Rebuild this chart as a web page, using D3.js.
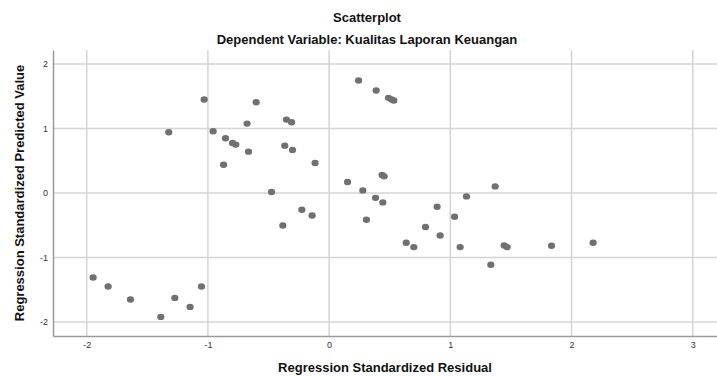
<!DOCTYPE html>
<html>
<head>
<meta charset="utf-8">
<script src="https://cdn.jsdelivr.net/npm/d3@7"></script>
<style>
  body { margin: 0; background: #fff; }
  text { font-family: "Liberation Sans", Arial, sans-serif; }
</style>
</head>
<body>
<svg id="chart" width="717" height="376"></svg>
<script>
// residuals (x) and predicted values (y)
var residuals = [-1.031, -0.602, -0.677, -1.323, -0.957, -0.855, -0.797, -0.770, -0.665, -0.871,
  -0.475, -0.352, -0.310, 0.243, 0.388, 0.490, 0.515, 0.534, -0.366, -0.302,
  -0.116, 0.152, 0.437, 0.454, 0.278, 1.370, 1.133, 0.383, 0.443, -0.225,
  -0.140, -0.382, 0.308, 0.891, 1.035, 0.795, 0.916, 0.636, 0.699, 1.081,
  1.444, 1.469, 1.835, 2.178, 1.334, -1.947, -1.823, -1.639, -1.389, -1.273,
  -1.147, -1.053];
var predicted = [1.449, 1.407, 1.076, 0.941, 0.957, 0.848, 0.776, 0.750, 0.641, 0.439,
  0.015, 1.138, 1.096, 1.744, 1.589, 1.475, 1.449, 1.433, 0.734, 0.667,
  0.466, 0.171, 0.280, 0.258, 0.040, 0.102, -0.053, -0.075, -0.146, -0.259,
  -0.348, -0.503, -0.415, -0.213, -0.368, -0.528, -0.658, -0.772, -0.839, -0.839,
  -0.813, -0.839, -0.818, -0.772, -1.113, -1.311, -1.450, -1.652, -1.921, -1.626,
  -1.766, -1.450];
var xTicks = [-2, -1, 0, 1, 2, 3];
var yTicks = [-2, -1, 0, 1, 2];

var svg = d3.select('#chart');
var plotLeft = 53, plotRight = 717, plotTop = 50, plotBottom = 336;

var x = d3.scaleLinear().domain([-2.278, 3.2]).range([plotLeft, plotRight]);
var y = d3.scaleLinear().domain([-2.217, 2.217]).range([plotBottom, plotTop]);

// grid
svg.append('g').selectAll('line').data(xTicks).enter().append('line')
  .attr('x1', function(d){ return x(d); }).attr('x2', function(d){ return x(d); })
  .attr('y1', plotTop).attr('y2', plotBottom)
  .style('stroke', '#d4d4d4').style('stroke-width', 1.5);
svg.append('g').selectAll('line').data(yTicks).enter().append('line')
  .attr('x1', plotLeft).attr('x2', plotRight)
  .attr('y1', function(d){ return y(d); }).attr('y2', function(d){ return y(d); })
  .style('stroke', '#d4d4d4').style('stroke-width', 1.5);

// axes
var fmt = function(d){ return String(d); };
var xAxis = svg.append('g').attr('transform', 'translate(0,' + plotBottom + ')')
  .call(d3.axisBottom(x).tickValues(xTicks).tickFormat(fmt).tickSize(0).tickPadding(6));
var yAxis = svg.append('g').attr('transform', 'translate(' + plotLeft + ',0)')
  .call(d3.axisLeft(y).tickValues(yTicks).tickFormat(fmt).tickSize(0).tickPadding(5));
[xAxis, yAxis].forEach(function(a){
  a.select('.domain').style('stroke', '#9a9a9a').style('stroke-width', 1.5);
  a.selectAll('text').style('font-size', '9px').style('fill', '#333')
    .style('font-family', '"Liberation Sans", Arial, sans-serif');
});

// points
svg.append('g').selectAll('ellipse')
  .data(residuals.map(function(r, i){ return [r, predicted[i]]; }))
  .enter().append('ellipse')
  .attr('cx', function(d){ return x(d[0]); })
  .attr('cy', function(d){ return y(d[1]); })
  .attr('rx', 3.6).attr('ry', 3.2)
  .style('fill', '#707070');

// titles
svg.append('text').attr('x', 367).attr('y', 22).attr('text-anchor', 'middle')
  .style('font-size', '13px').style('font-weight', 'bold').style('fill', '#111')
  .text('Scatterplot');
svg.append('text').attr('x', 367).attr('y', 44).attr('text-anchor', 'middle')
  .style('font-size', '13px').style('font-weight', 'bold').style('fill', '#111')
  .text('Dependent Variable: Kualitas Laporan Keuangan');
svg.append('text').attr('x', (plotLeft + plotRight) / 2).attr('y', 372).attr('text-anchor', 'middle')
  .style('font-size', '13px').style('font-weight', 'bold').style('fill', '#111')
  .text('Regression Standardized Residual');
svg.append('text').attr('transform', 'translate(24,' + ((plotTop + plotBottom) / 2) + ') rotate(-90)')
  .attr('text-anchor', 'middle')
  .style('font-size', '13px').style('font-weight', 'bold').style('fill', '#111')
  .text('Regression Standardized Predicted Value');
</script>
</body>
</html>
